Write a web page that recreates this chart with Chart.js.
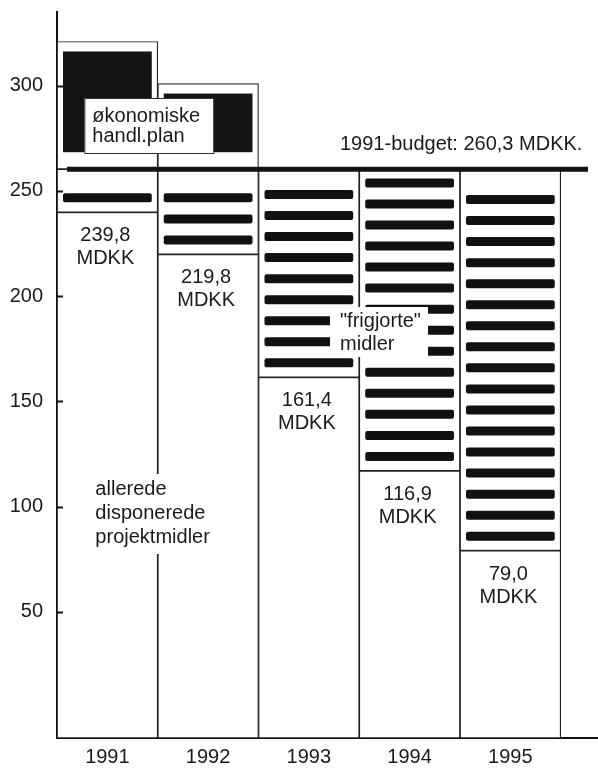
<!DOCTYPE html>
<html>
<head>
<meta charset="utf-8">
<script src="https://cdn.jsdelivr.net/npm/chart.js@4.4.1/dist/chart.umd.min.js"></script>
<style>
  html, body { margin: 0; padding: 0; background: #fff; }
  #wrap { width: 598px; height: 769px; position: relative; }
</style>
</head>
<body>
<div id="wrap"><canvas id="chart"></canvas></div>
<script>
// Data (MDKK)
const years = ['1991', '1992', '1993', '1994', '1995'];
const disponeret = [239.8, 219.8, 161.4, 116.9, 79.0];   // allerede disponerede projektmidler
const budget1991 = 260.3;                                 // 1991-budget
const handlplanTop = [321, 301, null, null, null];        // økonomiske handl.plan (top of box)
const yTickValues = [50, 100, 150, 200, 250, 300];
const yMin = -10;
const yMax = 335;
const stripeUnit = 10;                                    // one stripe per 10 MDKK

const fontFamily = '"Liberation Sans", Arial, Helvetica, sans-serif';
const ink = '#1a1a1a';

Chart.defaults.font.family = fontFamily;
Chart.defaults.font.size = 20;
Chart.defaults.color = ink;

// x position of each year on the linear x scale
const xPos = years.map((y, i) => i + 1);

const disponeretData = disponeret.map((v, i) => ({ x: xPos[i], y: [yMin, v] }));
const frigjortData = disponeret.map((v, i) => ({ x: xPos[i], y: [v, budget1991] }));
const handlplanData = handlplanTop
    .map((t, i) => t == null ? null : ({ x: xPos[i], y: [budget1991, t] }))
    .filter(d => d);

const fmt = v => v.toFixed(1).replace('.', ',');

function drawLines(c, lines, x, y, lh, align) {
    lh = lh || 22;
    c.textAlign = align || 'left';
    c.textBaseline = 'alphabetic';
    lines.forEach((t, i) => c.fillText(t, x, y + i * lh));
}

// Stripes, black boxes, budget line and all notes
const overlay = {
    id: 'overlay',
    afterDatasetsDraw(chart) {
        const c = chart.ctx;
        const area = chart.chartArea;
        const xs = chart.scales.x;
        const ys = chart.scales.y;
        const budgetY = ys.getPixelForValue(budget1991);
        const step = ys.getPixelForValue(0) - ys.getPixelForValue(stripeUnit);
        c.save();

        // "frigjorte" stripes
        c.fillStyle = '#111';
        chart.getDatasetMeta(1).data.forEach(bar => {
            const p = bar.getProps(['x', 'y', 'base', 'width'], true);
            const top = Math.min(p.y, p.base);
            const bottom = Math.max(p.y, p.base);
            const left = p.x - p.width / 2 + 6;
            const w = p.width - 12;
            for (let b = bottom - 10; b - 9 >= top + 8; b -= step) {
                c.beginPath();
                if (c.roundRect) c.roundRect(left, b - 9, w, 9, 2); else c.rect(left, b - 9, w, 9);
                c.fill();
            }
        });

        // black blocks in the handl.plan boxes
        chart.getDatasetMeta(2).data.forEach(bar => {
            const p = bar.getProps(['x', 'y', 'base', 'width'], true);
            const top = Math.min(p.y, p.base);
            c.fillStyle = '#141414';
            c.fillRect(p.x - p.width / 2 + 6, top + 10, p.width - 12, budgetY - 17 - (top + 10));
        });

        // budget line
        c.strokeStyle = '#111';
        c.lineWidth = 5;
        c.beginPath();
        c.moveTo(area.left + 10, budgetY);
        c.lineTo(area.right - 9, budgetY);
        c.stroke();

        // y tick marks (inside the axis)
        c.lineWidth = 2;
        yTickValues.forEach(v => {
            const y = Math.round(ys.getPixelForValue(v)) + 0.5;
            c.beginPath();
            c.moveTo(area.left, y);
            c.lineTo(area.left + 6, y);
            c.stroke();
        });

        c.font = '20px ' + fontFamily;
        c.fillStyle = ink;

        // budget text
        drawLines(c, ['1991-budget: ' + fmt(budget1991) + ' MDKK.'], 340, budgetY - 19);

        // handl.plan label box
        const hx = xs.getPixelForValue(1) - 23;
        c.fillStyle = '#fff';
        c.fillRect(hx, 98, 129, 55);
        c.strokeStyle = '#333';
        c.lineWidth = 1;
        c.strokeRect(hx + 0.5, 98.5, 129, 55);
        c.fillStyle = ink;
        drawLines(c, ['økonomiske', 'handl.plan'], hx + 8, 122, 20);

        // "frigjorte" midler label
        const fx = xs.getPixelForValue(3.21);
        c.fillStyle = '#fff';
        c.fillRect(fx, 307, 98, 50);
        c.fillStyle = ink;
        drawLines(c, ['"frigjorte"', 'midler'], fx + 10, 327, 23);

        // value labels in the white bars
        chart.getDatasetMeta(0).data.forEach((bar, i) => {
            const p = bar.getProps(['x', 'y', 'base'], true);
            const top = Math.min(p.y, p.base);
            drawLines(c, [fmt(disponeret[i]), 'MDKK'], p.x - 2, top + 29, 23, 'center');
        });

        // allerede disponerede projektmidler (white backing hides the column line)
        const ax = xs.getPixelForValue(1) - 12;
        c.fillStyle = '#fff';
        c.fillRect(ax - 3, 474, 128, 80);
        c.fillStyle = ink;
        drawLines(c, ['allerede', 'disponerede', 'projektmidler'], ax, 495, 24);

        c.restore();
    }
};

const barStyle = {
    backgroundColor: '#fff',
    borderColor: '#222',
    borderWidth: 1.2,
    borderSkipped: false,
    grouped: false,
    barPercentage: 1,
    categoryPercentage: 1
};

new Chart(document.getElementById('chart'), {
    type: 'bar',
    data: {
        datasets: [
            Object.assign({ label: 'allerede disponerede projektmidler', data: disponeretData }, barStyle),
            Object.assign({ label: '"frigjorte" midler', data: frigjortData }, barStyle),
            Object.assign({ label: 'økonomiske handl.plan', data: handlplanData }, barStyle)
        ]
    },
    options: {
        responsive: true,
        maintainAspectRatio: false,
        animation: false,
        layout: { padding: { top: 12, right: 1, left: 0, bottom: 0 } },
        plugins: { legend: { display: false }, tooltip: { enabled: false } },
        scales: {
            x: {
                type: 'linear',
                min: 0.5,
                max: 5.86,
                offset: false,
                z: 1,
                grid: { display: false, drawTicks: false, offset: false },
                border: { display: true, color: '#111', width: 2 },
                afterBuildTicks: axis => { axis.ticks = xPos.map(v => ({ value: v })); },
                afterFit: scale => {
                    scale.height = 31;
                    scale.paddingLeft = 0;
                    scale.paddingRight = 0;
                },
                ticks: {
                    padding: 7,
                    autoSkip: false,
                    maxRotation: 0,
                    callback: v => years[v - 1]
                }
            },
            y: {
                type: 'linear',
                min: yMin,
                max: yMax,
                z: 1,
                grid: { display: false, drawTicks: false },
                border: { display: true, color: '#111', width: 2 },
                afterBuildTicks: axis => { axis.ticks = yTickValues.map(v => ({ value: v })); },
                afterFit: scale => {
                    scale.width = 57;
                    scale.paddingTop = 0;
                    scale.paddingBottom = 0;
                },
                ticks: {
                    padding: 14,
                    callback: v => String(v)
                }
            }
        }
    },
    plugins: [overlay]
});
</script>
</body>
</html>
